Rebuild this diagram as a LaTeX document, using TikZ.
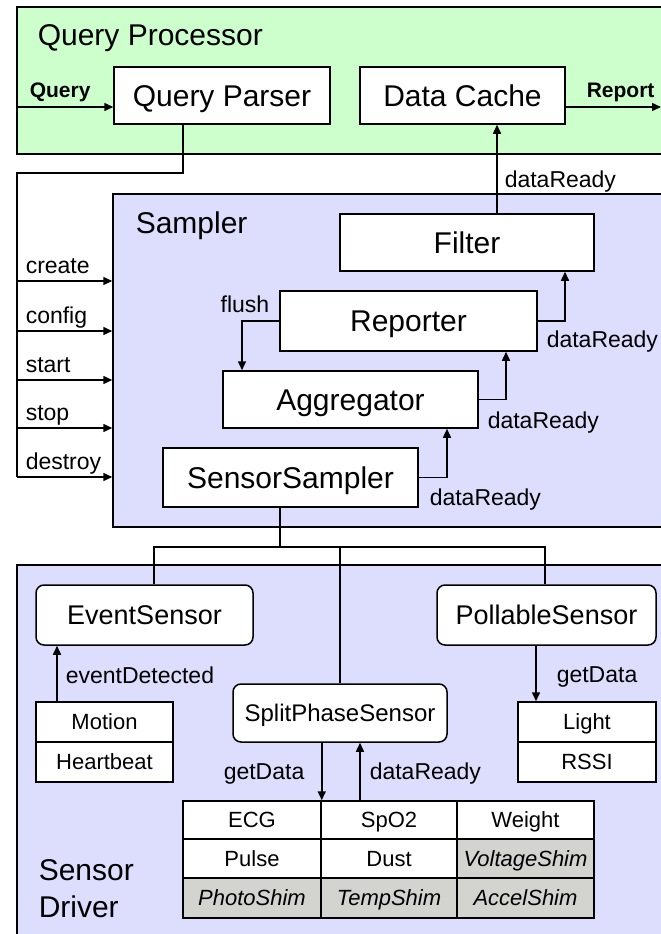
\documentclass[tikz,border=0pt]{standalone}
\usepackage{fontspec}
\setmainfont{Liberation Sans}
\usetikzlibrary{arrows.meta}
\newcommand\pxf[1]{\fontsize{#1}{#1}\selectfont}
\definecolor{qpgreen}{RGB}{204,255,204}
\definecolor{samplav}{RGB}{221,221,253}
\definecolor{cellgrey}{RGB}{211,211,208}
\begin{document}
\begin{tikzpicture}[x=1pt,y=-1pt,line width=1.5pt,
  arr/.style={-{Triangle[length=9pt,width=8pt]}},
  region/.style={draw,inner sep=0pt,anchor=center},
  blk/.style={draw,fill=white,inner sep=0pt,anchor=center,font=\pxf{30},text height=21.5pt,text depth=0pt},
  rblk/.style={draw,fill=white,rounded corners=8pt,inner sep=0pt,anchor=center,font=\pxf{27},text height=19.3pt,text depth=0pt},
  cell/.style={draw,fill=white,inner sep=0pt,anchor=center,font=\pxf{22},text height=15.8pt,text depth=0pt},
  shim/.style={cell,fill=cellgrey,font=\pxf{22}\itshape},
  lbl/.style={inner sep=0pt,anchor=base west,font=\pxf{23}},
  ttl/.style={inner sep=0pt,anchor=base west,font=\pxf{30}},
  bl/.style={inner sep=0pt,anchor=base west,font=\pxf{21}\bfseries}]
\useasboundingbox (0,0) rectangle (661,934);
\fill[white] (0,0) rectangle (661,934);
% regions
\node[region,fill=qpgreen,minimum width=663pt,minimum height=147pt] (qproc) at (348.5,80.5) {};
\node[region,fill=samplav,minimum width=567pt,minimum height=333pt] (sampler) at (396.5,360.5) {};
\node[region,fill=samplav,minimum width=663pt,minimum height=395pt] (sdriver) at (348.5,762.5) {};
\node[ttl] (tqp) at (37,46) {Query Processor};
\node[ttl] (tsamp) at (135,233) {Sampler};
\node[ttl] (tsd1) at (38,880) {Sensor};
\node[ttl] (tsd2) at (38,917) {Driver};
% query processor blocks
\node[blk,minimum width=216pt,minimum height=57pt] (qp) at (222,95.5) {Query Parser};
\node[blk,minimum width=205pt,minimum height=57pt] (dc) at (462.5,95.5) {Data Cache};
\coordinate (qin) at (17,107);
\coordinate (rout) at (661,107);
\draw[arr] (qin) -- (qin -| qp.west);
\draw[arr] (rout -| dc.east) -- (rout);
\node[bl] (lq) at (29,97) {Query};
\node[bl] (lr) at (586,97) {Report};
% sampler blocks
\node[blk,minimum width=254pt,minimum height=57pt] (filter) at (467,242.5) {Filter};
\node[blk,minimum width=257pt,minimum height=60pt] (rep) at (408.5,321) {Reporter};
\node[blk,minimum width=255pt,minimum height=57pt] (agg) at (350.5,399.5) {Aggregator};
\node[blk,minimum width=255pt,minimum height=59pt] (ss) at (290.5,477.5) {SensorSampler};
\draw[arr] ([xshift=30pt]filter.north) -- ([xshift=30pt]filter.north |- dc.south);
\node[lbl] (ldr0) at (504,187) {dataReady};
\draw[arr] (rep.west) -| ([xshift=-108.5pt]agg.north);
\node[lbl,anchor=base east] (lflush) at (270,312) {flush};
\draw[arr] (rep.east) -| ([xshift=98pt]filter.south);
\node[lbl] (ldr1) at (546,347) {dataReady};
\draw[arr] (agg.east) -| ([xshift=97.5pt]rep.south);
\node[lbl] (ldr2) at (487,428) {dataReady};
\draw[arr] (ss.east) -| ([xshift=96.5pt]agg.south);
\node[lbl] (ldr3) at (429,505) {dataReady};
% control bus
\coordinate (bc) at (17,173);
\coordinate (b1) at (17,281);
\coordinate (b2) at (17,331);
\coordinate (b3) at (17,380);
\coordinate (b4) at (17,428);
\coordinate (b5) at (17,477);
\draw ([xshift=-39pt]qp.south) |- (bc) -- (b5);
\draw[arr] (b1) -- (b1 -| sampler.west);
\draw[arr] (b2) -- (b2 -| sampler.west);
\draw[arr] (b3) -- (b3 -| sampler.west);
\draw[arr] (b4) -- (b4 -| sampler.west);
\draw[arr] (b5) -- (b5 -| sampler.west);
\node[lbl] (lc1) at (25,273) {create};
\node[lbl] (lc2) at (25,323) {config};
\node[lbl] (lc3) at (25,372) {start};
\node[lbl] (lc4) at (25,420) {stop};
\node[lbl] (lc5) at (25,469) {destroy};
% sensor driver
\node[rblk,minimum width=217pt,minimum height=60pt] (es) at (144.5,615) {EventSensor};
\node[rblk,minimum width=219pt,minimum height=60pt] (ps) at (546.5,615) {PollableSensor};
\node[rblk,minimum width=214pt,minimum height=58pt,font=\pxf{24},text height=17.2pt] (sps) at (340,713) {SplitPhaseSensor};
\coordinate (bus) at (280,547);
\draw ([xshift=-10.5pt]ss.south) -- (bus);
\draw ([xshift=9.5pt]es.north) |- (bus) -| ([xshift=-1.5pt]ps.north);
\draw (sps.north) -- (sps.north |- bus);
% event sensors
\node[cell,minimum width=137pt,minimum height=40pt] (motion) at (104.5,722) {Motion};
\node[cell,minimum width=137pt,minimum height=40pt] (hb) at (104.5,762) {Heartbeat};
\draw[arr] ([xshift=-47.5pt]motion.north) -- ([xshift=-47.5pt]motion.north |- es.south);
\node[lbl] (led) at (65,683) {eventDetected};
% pollable sensors
\node[cell,minimum width=138pt,minimum height=40pt] (light) at (587,722) {Light};
\node[cell,minimum width=138pt,minimum height=40pt] (rssi) at (587,762) {RSSI};
\draw[arr] ([xshift=-51pt]light.north |- ps.south) -- ([xshift=-51pt]light.north);
\node[lbl] (lgd1) at (556,682) {getData};
% split phase table
\node[cell,minimum width=138pt,minimum height=38pt] (ecg) at (252,820) {ECG};
\node[cell,minimum width=136pt,minimum height=38pt] (spo) at (389,820) {SpO2};
\node[cell,minimum width=137pt,minimum height=38pt] (wt) at (525.5,820) {Weight};
\node[cell,minimum width=138pt,minimum height=39pt] (pulse) at (252,858.5) {Pulse};
\node[cell,minimum width=136pt,minimum height=39pt] (dust) at (389,858.5) {Dust};
\node[shim,minimum width=137pt,minimum height=39pt] (volt) at (525.5,858.5) {VoltageShim};
\node[shim,minimum width=138pt,minimum height=40pt] (photo) at (252,898) {PhotoShim};
\node[shim,minimum width=136pt,minimum height=40pt] (temp) at (389,898) {TempShim};
\node[shim,minimum width=137pt,minimum height=40pt] (accel) at (525.5,898) {AccelShim};
\draw[arr] (ecg.north east |- sps.south) -- (ecg.north east);
\draw[arr] ([xshift=-29pt]spo.north) -- ([xshift=-29pt]spo.north |- sps.south);
\node[lbl] (lgd2) at (223,779) {getData};
\node[lbl] (ldr4) at (369,779) {dataReady};
\end{tikzpicture}
\end{document}
